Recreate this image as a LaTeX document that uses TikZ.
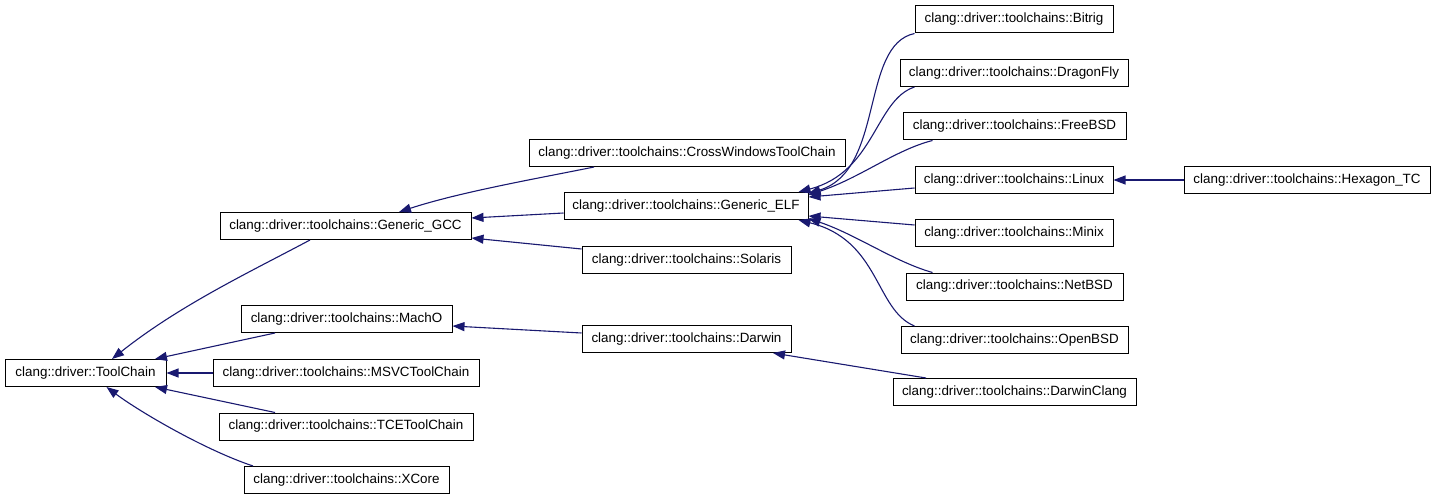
\documentclass[tikz,border=0pt]{standalone}
\usepackage{fontspec}
\setmainfont{Liberation Sans}
\usetikzlibrary{arrows.meta}
\definecolor{edgeblue}{HTML}{191970}
\tikzset{
  cls/.style={draw=black, line width=1pt, fill=white, minimum height=27pt, inner sep=0pt,
    font=\fontsize{13.4}{16}\selectfont},
  edge/.style={draw=edgeblue, line width=1.1pt, -{Triangle[length=12pt,width=9pt]}}
}
\begin{document}
\begin{tikzpicture}[x=1pt,y=-1pt]
\useasboundingbox (0,0) rectangle (1435,500);
% nodes
\node[cls, minimum width=161pt] (tc) at (85.5,373) {clang::driver::ToolChain};
\node[cls, minimum width=251pt] (gcc) at (345.5,226) {clang::driver::toolchains::Generic\_GCC};
\node[cls, minimum width=211pt] (macho) at (346.5,319) {clang::driver::toolchains::MachO};
\node[cls, minimum width=266pt] (msvc) at (346,373) {clang::driver::toolchains::MSVCToolChain};
\node[cls, minimum width=254pt] (tce) at (346,426.5) {clang::driver::toolchains::TCEToolChain};
\node[cls, minimum width=205pt] (xcore) at (346.5,480) {clang::driver::toolchains::XCore};
\node[cls, minimum width=316pt] (cross) at (687,153) {clang::driver::toolchains::CrossWindowsToolChain};
\node[cls, minimum width=244pt] (elf) at (686,206) {clang::driver::toolchains::Generic\_ELF};
\node[cls, minimum width=209pt] (solaris) at (686.5,260) {clang::driver::toolchains::Solaris};
\node[cls, minimum width=209pt] (darwin) at (686.5,339) {clang::driver::toolchains::Darwin};
\node[cls, minimum width=198pt] (bitrig) at (1014,19.5) {clang::driver::toolchains::Bitrig};
\node[cls, minimum width=228pt] (dragon) at (1014,73) {clang::driver::toolchains::DragonFly};
\node[cls, minimum width=223pt] (freebsd) at (1014.5,126.5) {clang::driver::toolchains::FreeBSD};
\node[cls, minimum width=198pt] (linux) at (1014,180) {clang::driver::toolchains::Linux};
\node[cls, minimum width=198pt] (minix) at (1014,233) {clang::driver::toolchains::Minix};
\node[cls, minimum width=217pt] (netbsd) at (1014.5,286.5) {clang::driver::toolchains::NetBSD};
\node[cls, minimum width=227pt] (openbsd) at (1014.5,340) {clang::driver::toolchains::OpenBSD};
\node[cls, minimum width=243pt] (dclang) at (1014.5,392) {clang::driver::toolchains::DarwinClang};
\node[cls, minimum width=246pt] (hexagon) at (1307,180) {clang::driver::toolchains::Hexagon\_TC};
% edges to ToolChain
\draw[edge] ([xshift=-35.5pt]gcc.south) .. controls (250,272) and (180,305) .. ([xshift=26.5pt]tc.north);
\draw[edge] ([xshift=-71.5pt]macho.south) -- ([xshift=69.5pt]tc.north);
\draw[edge] (msvc.west) -- (tc.east);
\draw[edge] ([xshift=-71pt]tce.north) -- ([xshift=69.5pt]tc.south);
\draw[edge] ([xshift=-93.5pt]xcore.north) .. controls (205,450) and (140,412) .. ([xshift=21pt]tc.south);
% edges to Generic_GCC
\draw[edge] ([xshift=-93pt]cross.south) .. controls (540,178) and (460,192) .. ([xshift=53.5pt]gcc.north);
\draw[edge] ([yshift=-7pt]elf.west) -- ([yshift=8pt]gcc.east);
\draw[edge] ([yshift=11pt]solaris.west) -- ([yshift=-12pt]gcc.east);
% MachO / Darwin
\draw[edge] ([yshift=6pt]darwin.west) -- ([yshift=-7pt]macho.east);
\draw[edge] ([xshift=-88.5pt]dclang.north) -- ([xshift=86.5pt]darwin.south);
% Linux
\draw[edge] (hexagon.west) -- (linux.east);
% edges to Generic_ELF
\draw[edge] (bitrig.south west) .. controls (860,45) and (885,170) .. ([yshift=-1.5pt]elf.north east);
\draw[edge] ([xshift=15pt]dragon.south west) .. controls (875,100) and (875,172) .. ([xshift=-10pt]elf.north east);
\draw[edge] ([xshift=30pt]freebsd.south west) .. controls (895,150) and (860,178) .. ([yshift=-3pt]elf.north east);
\draw[edge] ([yshift=-8pt]linux.west) -- ([yshift=9pt]elf.east);
\draw[edge] ([yshift=8pt]minix.west) -- ([yshift=-10pt]elf.east);
\draw[edge] ([xshift=27pt]netbsd.north west) .. controls (895,262) and (855,234) .. ([yshift=1.5pt]elf.south east);
\draw[edge] ([xshift=14pt]openbsd.north west) .. controls (875,310) and (880,240) .. ([xshift=-10pt]elf.south east);
\end{tikzpicture}
\end{document}
